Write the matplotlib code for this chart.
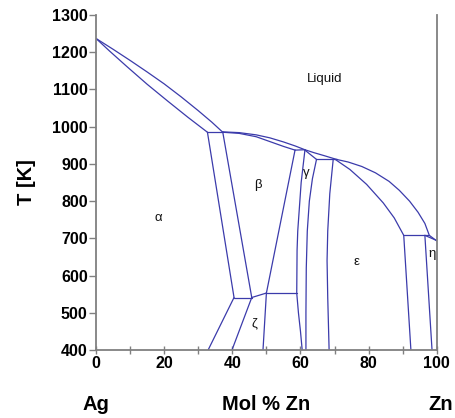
import matplotlib
matplotlib.use('Agg')
import matplotlib.pyplot as plt
from matplotlib.ticker import MultipleLocator

plt.rcParams['font.family'] = ['Liberation Sans', 'DejaVu Sans']

# ---- data: composition (mol % Zn) and temperature (K) ----
liq_alpha_x = [0, 5, 10, 15, 20, 25, 30, 34, 37.2]
liq_alpha_T = [1237, 1208, 1178, 1147, 1115, 1080, 1043, 1012, 985]
sol_alpha_x = [0, 4, 9, 15, 21, 27, 32.7]
sol_alpha_T = [1237, 1203, 1162, 1114, 1069, 1025, 985]
perit_beta_x = [32.7, 37.2]
perit_beta_T = [985, 985]
liq_beta_x = [37.2, 42, 47, 51, 55, 58.5, 61.3]
liq_beta_T = [986, 984, 978, 970, 959, 948, 938]
sol_beta_x = [37.2, 42, 47, 51, 55, 58.4]
sol_beta_T = [985, 982, 973, 960, 947, 937]
perit_gamma_x = [58.4, 61.3]
perit_gamma_T = [937, 938]
liq_gamma_x = [61.3, 64, 67, 70.6]
liq_gamma_T = [938, 930, 922, 912]
gamma_liq_bound_x = [61.3, 64.7]
gamma_liq_bound_T = [937, 912]
perit_eps_x = [64.7, 70.6]
perit_eps_T = [912, 912]
liq_eps_x = [70.6, 74, 78, 82, 86, 89, 92, 94.5, 96.5, 97.8, 100]
liq_eps_T = [912, 905, 893, 876, 853, 829, 800, 770, 740, 708, 693]
sol_eps_x = [70.2, 74.5, 79.4, 84.3, 87.5, 90.3]
sol_eps_T = [912, 885, 845, 795, 755, 708]
perit_eta_x = [90.3, 97.8]
perit_eta_T = [708, 708]
sol_eta_x = [96.5, 100]
sol_eta_T = [708, 694]

alpha_ab_x = [32.7, 40.5]
alpha_ab_T = [985, 541]
beta_ab_x = [37.2, 45.7]
beta_ab_T = [985, 541]
eutectoid_x = [40.5, 45.7]
eutectoid_T = [541, 541]
zeta_slope_x = [45.7, 50.0]
zeta_slope_T = [541, 553]
zeta_top_x = [50.0, 58.9]
zeta_top_T = [553, 553]
alpha_az_x = [40.5, 32.9]
alpha_az_T = [541, 400]
zeta_left_x = [45.7, 39.9]
zeta_left_T = [541, 400]
zeta_right_x = [50.0, 49.0]
zeta_right_T = [553, 400]
beta_bg_x = [58.4, 50.0]
beta_bg_T = [937, 553]
gamma_left_x = [61.3, 60.2, 59.2, 59.0, 58.9, 59.4, 60.0, 60.5]
gamma_left_T = [937, 850, 720, 668, 553, 500, 450, 400]
gamma_right_x = [64.7, 63.5, 62.6, 62.0, 61.7, 61.6, 61.6]
gamma_right_T = [912, 860, 800, 720, 620, 500, 400]
eps_left_x = [69.6, 68.6, 68.0, 67.8, 68.0, 68.4]
eps_left_T = [912, 820, 720, 640, 540, 400]
eps_right_x = [90.3, 92.4]
eps_right_T = [708, 400]
eta_left_x = [96.5, 98.6]
eta_left_T = [708, 400]

curves = [
    (liq_alpha_x, liq_alpha_T), (sol_alpha_x, sol_alpha_T),
    (perit_beta_x, perit_beta_T), (liq_beta_x, liq_beta_T),
    (sol_beta_x, sol_beta_T), (perit_gamma_x, perit_gamma_T),
    (liq_gamma_x, liq_gamma_T), (gamma_liq_bound_x, gamma_liq_bound_T),
    (perit_eps_x, perit_eps_T), (liq_eps_x, liq_eps_T),
    (sol_eps_x, sol_eps_T), (perit_eta_x, perit_eta_T),
    (sol_eta_x, sol_eta_T), (alpha_ab_x, alpha_ab_T),
    (beta_ab_x, beta_ab_T), (eutectoid_x, eutectoid_T),
    (zeta_slope_x, zeta_slope_T), (zeta_top_x, zeta_top_T),
    (alpha_az_x, alpha_az_T), (zeta_left_x, zeta_left_T),
    (zeta_right_x, zeta_right_T), (beta_bg_x, beta_bg_T),
    (gamma_left_x, gamma_left_T), (gamma_right_x, gamma_right_T),
    (eps_left_x, eps_left_T), (eps_right_x, eps_right_T),
    (eta_left_x, eta_left_T),
]

phase_labels = ['Liquid', 'α', 'β', 'γ', 'ε', 'η', 'ζ']
phase_label_x = [67, 18.2, 47.5, 61.7, 76.4, 98.6, 46.6]
phase_label_T = [1128, 754, 843, 875, 636, 659, 471]

x_ticks = [0, 20, 40, 60, 80, 100]
y_ticks = [400, 500, 600, 700, 800, 900, 1000, 1100, 1200, 1300]

# ---- figure ----
fig = plt.figure(figsize=(4.55, 4.18), dpi=100)
ax = fig.add_axes([0.211, 0.1627, 0.749, 0.8014])

line_color = '#3b3bab'
for cx, cy in curves:
    ax.plot(cx, cy, color=line_color, lw=0.9, solid_capstyle='round',
            solid_joinstyle='round')

for lab, lx, ly in zip(phase_labels, phase_label_x, phase_label_T):
    ax.text(lx, ly, lab, fontsize=9.5, ha='center', va='center', color='#111111')

ax.set_xlim(0, 100)
ax.set_ylim(400, 1300)
ax.set_xticks(x_ticks)
ax.xaxis.set_minor_locator(MultipleLocator(10))
ax.set_yticks(y_ticks)

spine_c = '#808080'
ax.spines['top'].set_visible(False)
for s in ['left', 'bottom', 'right']:
    ax.spines[s].set_color(spine_c)
    ax.spines[s].set_linewidth(1.3)

ax.tick_params(which='both', direction='out', length=5, width=1, color=spine_c,
               labelsize=11.5, pad=1)
ax.tick_params(axis='x', which='both', direction='inout', length=6)
for t in ax.get_xticklabels() + ax.get_yticklabels():
    t.set_fontweight('bold')

ax.text(-0.205, 0.5, 'T [K]', transform=ax.transAxes, rotation=90,
        ha='center', va='center', fontsize=14.5, fontweight='bold')

trans = ax.get_xaxis_transform()
ax.text(0, -0.163, 'Ag', transform=trans, ha='center', va='center',
        fontsize=14.5, fontweight='bold')
ax.text(50, -0.163, 'Mol % Zn', transform=trans, ha='center', va='center',
        fontsize=14.5, fontweight='bold')
ax.text(101, -0.163, 'Zn', transform=trans, ha='center', va='center',
        fontsize=14.5, fontweight='bold')

fig.savefig('out.png', dpi=100)
